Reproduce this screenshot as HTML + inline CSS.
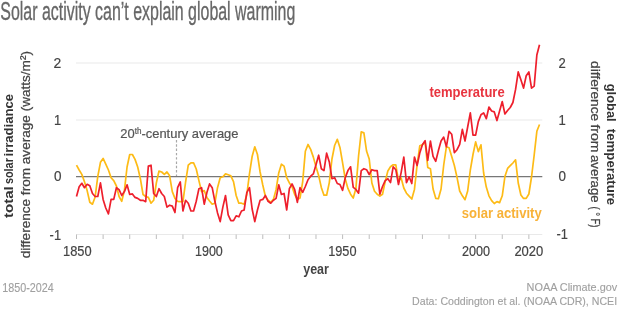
<!DOCTYPE html>
<html><head><meta charset="utf-8"><style>
html,body{margin:0;padding:0;background:#fff;width:620px;height:310px;overflow:hidden}
svg{display:block;will-change:transform}
text{font-family:"Liberation Sans",sans-serif}
</style></head><body>
<svg width="620" height="310" viewBox="0 0 620 310">
<rect width="620" height="310" fill="#fff"/>
<g stroke="#e9e9e9" stroke-width="1">
<line x1="76" y1="63" x2="542.3" y2="63"/>
<line x1="76" y1="120" x2="542.3" y2="120"/>
<line x1="76" y1="234.5" x2="542.3" y2="234.5"/>
</g>
<g stroke="#bdbdbd" stroke-width="1">
<line x1="76.50" y1="234.5" x2="76.50" y2="239"/><line x1="103.11" y1="234.5" x2="103.11" y2="239"/><line x1="129.72" y1="234.5" x2="129.72" y2="239"/><line x1="156.33" y1="234.5" x2="156.33" y2="239"/><line x1="182.94" y1="234.5" x2="182.94" y2="239"/><line x1="209.55" y1="234.5" x2="209.55" y2="239"/><line x1="236.16" y1="234.5" x2="236.16" y2="239"/><line x1="262.77" y1="234.5" x2="262.77" y2="239"/><line x1="289.38" y1="234.5" x2="289.38" y2="239"/><line x1="315.99" y1="234.5" x2="315.99" y2="239"/><line x1="342.60" y1="234.5" x2="342.60" y2="239"/><line x1="369.21" y1="234.5" x2="369.21" y2="239"/><line x1="395.82" y1="234.5" x2="395.82" y2="239"/><line x1="422.43" y1="234.5" x2="422.43" y2="239"/><line x1="449.04" y1="234.5" x2="449.04" y2="239"/><line x1="475.65" y1="234.5" x2="475.65" y2="239"/><line x1="502.26" y1="234.5" x2="502.26" y2="239"/><line x1="528.87" y1="234.5" x2="528.87" y2="239"/>
</g>
<line x1="76" y1="176.6" x2="542.3" y2="176.6" stroke="#777" stroke-width="1.3"/>
<line x1="176.5" y1="140" x2="176.5" y2="176" stroke="#a8a8a8" stroke-width="1.2" stroke-dasharray="2.4,1.9"/>
<path d="M76.50,165.20 L79.16,170.00 L81.82,174.40 L84.48,181.80 L87.14,190.60 L89.81,202.30 L92.47,204.20 L95.13,197.00 L97.79,176.30 L100.45,162.30 L103.11,158.40 L105.77,164.20 L108.43,170.00 L111.09,177.70 L113.75,180.60 L116.41,186.00 L119.08,196.50 L121.74,201.30 L124.40,190.60 L127.06,167.00 L129.72,154.50 L132.38,154.50 L135.04,159.40 L137.70,167.00 L140.36,178.70 L143.03,194.50 L145.69,196.50 L148.35,197.40 L151.01,203.20 L153.67,200.30 L156.33,183.00 L158.99,171.00 L161.65,172.00 L164.31,174.40 L166.97,172.00 L169.63,175.80 L172.30,191.60 L174.96,198.40 L177.62,201.30 L180.28,201.70 L182.94,201.70 L185.60,182.00 L188.26,165.20 L190.92,162.80 L193.58,162.80 L196.25,169.00 L198.91,180.60 L201.57,191.60 L204.23,190.60 L206.89,197.40 L209.55,201.00 L212.21,204.20 L214.87,203.20 L217.53,187.70 L220.19,177.70 L222.85,176.80 L225.52,173.90 L228.18,174.80 L230.84,175.80 L233.50,181.60 L236.16,195.50 L238.82,203.20 L241.48,203.20 L244.14,204.20 L246.80,194.50 L249.47,173.90 L252.13,156.50 L254.79,146.80 L257.45,154.50 L260.11,172.00 L262.77,185.00 L265.43,196.50 L268.09,200.30 L270.75,202.30 L273.41,199.40 L276.07,189.70 L278.74,172.90 L281.40,164.20 L284.06,166.10 L286.72,177.70 L289.38,182.90 L292.04,186.80 L294.70,194.50 L297.36,199.40 L300.02,198.00 L302.69,181.60 L305.35,151.30 L308.01,144.50 L310.67,149.40 L313.33,157.10 L315.99,166.80 L318.65,175.50 L321.31,187.40 L323.97,195.20 L326.63,195.20 L329.30,182.60 L331.96,159.00 L334.62,145.50 L337.28,139.30 L339.94,147.40 L342.60,162.90 L345.26,179.00 L347.92,188.40 L350.58,194.20 L353.24,198.00 L355.91,188.40 L358.57,156.00 L361.23,131.90 L363.89,132.90 L366.55,151.00 L369.21,159.00 L371.87,183.00 L374.53,191.30 L377.19,194.20 L379.85,196.10 L382.51,194.20 L385.18,181.60 L387.84,171.00 L390.50,166.80 L393.16,164.80 L395.82,164.80 L398.48,181.00 L401.14,178.00 L403.80,188.00 L406.46,193.20 L409.12,196.10 L411.79,199.00 L414.45,189.40 L417.11,165.00 L419.77,145.80 L422.43,144.80 L425.09,141.90 L427.75,167.40 L430.41,168.70 L433.07,189.00 L435.74,198.30 L438.40,198.70 L441.06,189.00 L443.72,165.00 L446.38,146.80 L449.04,147.70 L451.70,156.40 L454.36,165.50 L457.02,177.40 L459.68,191.00 L462.35,195.80 L465.01,199.70 L467.67,191.00 L470.33,170.00 L472.99,154.50 L475.65,141.90 L478.31,151.60 L480.97,144.80 L483.63,173.00 L486.29,187.10 L488.95,195.80 L491.62,200.60 L494.28,203.50 L496.94,201.60 L499.60,202.60 L502.26,195.80 L504.92,176.50 L507.58,168.40 L510.24,165.70 L512.90,163.00 L515.57,159.80 L518.23,183.00 L520.89,195.00 L523.55,198.40 L526.21,198.40 L528.87,194.00 L531.53,177.00 L534.19,155.00 L536.85,131.30 L539.51,124.50" fill="none" stroke="#fdbb16" stroke-width="1.7" stroke-linejoin="round"/>
<path d="M76.50,196.50 L79.16,186.80 L81.82,183.30 L84.48,187.70 L87.14,184.30 L89.81,185.80 L92.47,193.50 L95.13,196.50 L97.79,196.50 L100.45,182.90 L103.11,199.40 L105.77,208.00 L108.43,213.90 L111.09,199.40 L113.75,199.40 L116.41,187.70 L119.08,189.70 L121.74,195.50 L124.40,191.60 L127.06,184.80 L129.72,194.50 L132.38,193.90 L135.04,197.40 L137.70,198.40 L140.36,200.30 L143.03,200.30 L145.69,201.70 L148.35,166.00 L151.01,165.20 L153.67,193.50 L156.33,196.50 L158.99,188.70 L161.65,193.50 L164.31,196.50 L166.97,207.10 L169.63,205.20 L172.30,206.10 L174.96,212.50 L177.62,187.70 L180.28,181.90 L182.94,211.00 L185.60,200.30 L188.26,203.20 L190.92,211.00 L193.58,211.00 L196.25,201.30 L198.91,188.70 L201.57,187.70 L204.23,204.20 L206.89,192.60 L209.55,183.90 L212.21,187.70 L214.87,201.30 L217.53,212.90 L220.19,221.60 L222.85,207.10 L225.52,195.50 L228.18,214.80 L230.84,220.60 L233.50,220.60 L236.16,215.80 L238.82,216.80 L241.48,211.00 L244.14,210.00 L246.80,192.60 L249.47,187.70 L252.13,209.00 L254.79,221.60 L257.45,210.00 L260.11,200.30 L262.77,199.40 L265.43,195.50 L268.09,201.30 L270.75,203.20 L273.41,200.30 L276.07,198.40 L278.74,184.80 L281.40,194.50 L284.06,193.50 L286.72,210.00 L289.38,188.70 L292.04,183.90 L294.70,189.70 L297.36,202.30 L300.02,187.70 L302.69,192.30 L305.35,186.50 L308.01,179.70 L310.67,176.20 L313.33,173.90 L315.99,164.80 L318.65,155.20 L321.31,168.70 L323.97,170.60 L326.63,153.20 L329.30,161.90 L331.96,178.70 L334.62,177.70 L337.28,183.50 L339.94,184.50 L342.60,190.30 L345.26,177.70 L347.92,170.60 L350.58,166.80 L353.24,187.40 L355.91,189.40 L358.57,193.20 L361.23,170.60 L363.89,168.70 L366.55,169.70 L369.21,174.50 L371.87,169.70 L374.53,170.60 L377.19,170.60 L379.85,194.20 L382.51,186.50 L385.18,180.60 L387.84,178.70 L390.50,182.60 L393.16,166.80 L395.82,169.70 L398.48,184.50 L401.14,172.60 L403.80,157.10 L406.46,182.60 L409.12,176.80 L411.79,183.50 L414.45,157.10 L417.11,165.50 L419.77,153.00 L422.43,144.80 L425.09,140.60 L427.75,160.30 L430.41,141.00 L433.07,156.40 L435.74,161.30 L438.40,150.60 L441.06,141.00 L443.72,137.10 L446.38,146.80 L449.04,131.30 L451.70,134.20 L454.36,152.60 L457.02,149.70 L459.68,144.40 L462.35,129.40 L465.01,141.00 L467.67,127.00 L470.33,112.90 L472.99,135.20 L475.65,135.20 L478.31,121.60 L480.97,114.80 L483.63,112.90 L486.29,118.70 L488.95,107.00 L491.62,111.00 L494.28,111.90 L496.94,120.60 L499.60,111.00 L502.26,101.60 L504.92,114.00 L507.58,110.50 L510.24,107.50 L512.90,102.50 L515.57,89.40 L518.23,71.90 L520.89,79.70 L523.55,88.10 L526.21,75.80 L528.87,71.90 L531.53,88.10 L534.19,86.10 L536.85,55.00 L539.51,44.70" fill="none" stroke="#ee1f2c" stroke-width="1.7" stroke-linejoin="round"/>
<text x="0.34" y="20.40" font-size="26.5" font-weight="normal" fill="#676767" textLength="294.98" lengthAdjust="spacingAndGlyphs" stroke="#676767" stroke-width="0.35">Solar activity can’t explain global warming</text>
<text x="53.60" y="68.30" font-size="14.3" font-weight="normal" fill="#444" textLength="7.76" lengthAdjust="spacingAndGlyphs" stroke="#444" stroke-width="0.2">2</text>
<text x="53.97" y="124.80" font-size="14.3" font-weight="normal" fill="#444" textLength="7.17" lengthAdjust="spacingAndGlyphs" stroke="#444" stroke-width="0.2">1</text>
<text x="53.94" y="180.80" font-size="14.3" font-weight="normal" fill="#444" textLength="7.51" lengthAdjust="spacingAndGlyphs" stroke="#444" stroke-width="0.2">0</text>
<text x="49.61" y="239.80" font-size="14.3" font-weight="normal" fill="#444" textLength="11.40" lengthAdjust="spacingAndGlyphs" stroke="#444" stroke-width="0.2">-1</text>
<text x="558.39" y="68.30" font-size="14.3" font-weight="normal" fill="#444" textLength="7.26" lengthAdjust="spacingAndGlyphs" stroke="#444" stroke-width="0.2">2</text>
<text x="558.49" y="124.80" font-size="14.3" font-weight="normal" fill="#444" textLength="7.28" lengthAdjust="spacingAndGlyphs" stroke="#444" stroke-width="0.2">1</text>
<text x="558.53" y="181.00" font-size="14.3" font-weight="normal" fill="#444" textLength="7.47" lengthAdjust="spacingAndGlyphs" stroke="#444" stroke-width="0.2">0</text>
<text x="556.54" y="238.90" font-size="14.3" font-weight="normal" fill="#444" textLength="11.41" lengthAdjust="spacingAndGlyphs" stroke="#444" stroke-width="0.2">-1</text>
<text x="63.00" y="255.80" font-size="14.3" font-weight="normal" fill="#444" textLength="28.57" lengthAdjust="spacingAndGlyphs" stroke="#444" stroke-width="0.2">1850</text>
<text x="195.01" y="255.80" font-size="14.3" font-weight="normal" fill="#444" textLength="27.78" lengthAdjust="spacingAndGlyphs" stroke="#444" stroke-width="0.2">1900</text>
<text x="328.16" y="255.80" font-size="14.3" font-weight="normal" fill="#444" textLength="28.33" lengthAdjust="spacingAndGlyphs" stroke="#444" stroke-width="0.2">1950</text>
<text x="461.89" y="255.80" font-size="14.3" font-weight="normal" fill="#444" textLength="28.07" lengthAdjust="spacingAndGlyphs" stroke="#444" stroke-width="0.2">2000</text>
<text x="514.39" y="255.80" font-size="14.3" font-weight="normal" fill="#444" textLength="28.97" lengthAdjust="spacingAndGlyphs" stroke="#444" stroke-width="0.2">2020</text>
<text x="303.23" y="273.70" font-size="14" font-weight="bold" fill="#444" textLength="25.72" lengthAdjust="spacingAndGlyphs">year</text>
<text x="2.31" y="291.50" font-size="12" font-weight="normal" fill="#a0a0a0" textLength="51.49" lengthAdjust="spacingAndGlyphs" stroke="#a0a0a0" stroke-width="0.12">1850-2024</text>
<text x="526.58" y="290.70" font-size="11.3" font-weight="normal" fill="#a0a0a0" textLength="90.63" lengthAdjust="spacingAndGlyphs" stroke="#a0a0a0" stroke-width="0.12">NOAA Climate.gov</text>
<text x="412.12" y="305.20" font-size="11.3" font-weight="normal" fill="#a0a0a0" textLength="204.97" lengthAdjust="spacingAndGlyphs" stroke="#a0a0a0" stroke-width="0.12">Data: Coddington et al. (NOAA CDR), NCEI</text>
<text x="429.42" y="96.60" font-size="14.4" font-weight="bold" fill="#e8343f" textLength="75.24" lengthAdjust="spacingAndGlyphs">temperature</text>
<text x="461.81" y="217.60" font-size="14.4" font-weight="bold" fill="#f8b238" textLength="79.91" lengthAdjust="spacingAndGlyphs">solar activity</text>
<g transform="translate(120.31,137.70) scale(0.9514,1)"><text x="0" y="0" font-size="13.6" font-weight="normal" fill="#555" stroke="#555" stroke-width="0.2">20<tspan font-size="8.5" dy="-4">th</tspan><tspan dy="4">-century average</tspan></text></g>
<g transform="translate(13.20,218.09) rotate(-90)"><text x="0" y="0" font-size="13.2" font-weight="bold" fill="#333" textLength="31.85" lengthAdjust="spacingAndGlyphs">total</text></g>
<g transform="translate(13.20,184.09) rotate(-90)"><text x="0" y="0" font-size="13.2" font-weight="bold" fill="#333" textLength="25.98" lengthAdjust="spacingAndGlyphs">solar</text></g>
<g transform="translate(13.20,156.48) rotate(-90)"><text x="0" y="0" font-size="13.2" font-weight="bold" fill="#333" textLength="62.50" lengthAdjust="spacingAndGlyphs">irradiance</text></g>
<g transform="translate(29.70,258.28) rotate(-90)"><text x="0" y="0" font-size="13.6" font-weight="normal" fill="#444" textLength="207.25" lengthAdjust="spacingAndGlyphs" stroke="#444" stroke-width="0.25">difference from average (watts/m²)</text></g>
<g transform="translate(607.10,83.73) rotate(90)"><text x="0" y="0" font-size="13.3" font-weight="bold" fill="#333" textLength="37.90" lengthAdjust="spacingAndGlyphs">global</text></g>
<g transform="translate(607.10,128.86) rotate(90)"><text x="0" y="0" font-size="13.3" font-weight="bold" fill="#333" textLength="76.34" lengthAdjust="spacingAndGlyphs">temperature</text></g>
<g transform="translate(590.60,61.05) rotate(90)"><text x="0" y="0" font-size="13.4" font-weight="normal" fill="#444" textLength="60.19" lengthAdjust="spacingAndGlyphs" stroke="#444" stroke-width="0.25">difference</text></g>
<g transform="translate(590.60,124.40) rotate(90)"><text x="0" y="0" font-size="13.4" font-weight="normal" fill="#444" textLength="28.21" lengthAdjust="spacingAndGlyphs" stroke="#444" stroke-width="0.25">from</text></g>
<g transform="translate(590.60,154.99) rotate(90)"><text x="0" y="0" font-size="13.4" font-weight="normal" fill="#444" textLength="47.60" lengthAdjust="spacingAndGlyphs" stroke="#444" stroke-width="0.25">average</text></g>
<g transform="translate(590.60,206.41) rotate(90)"><text x="0" y="0" font-size="13.4" font-weight="normal" fill="#444" textLength="21.10" lengthAdjust="spacingAndGlyphs" stroke="#444" stroke-width="0.25">( ° F)</text></g>
</svg>
</body></html>
